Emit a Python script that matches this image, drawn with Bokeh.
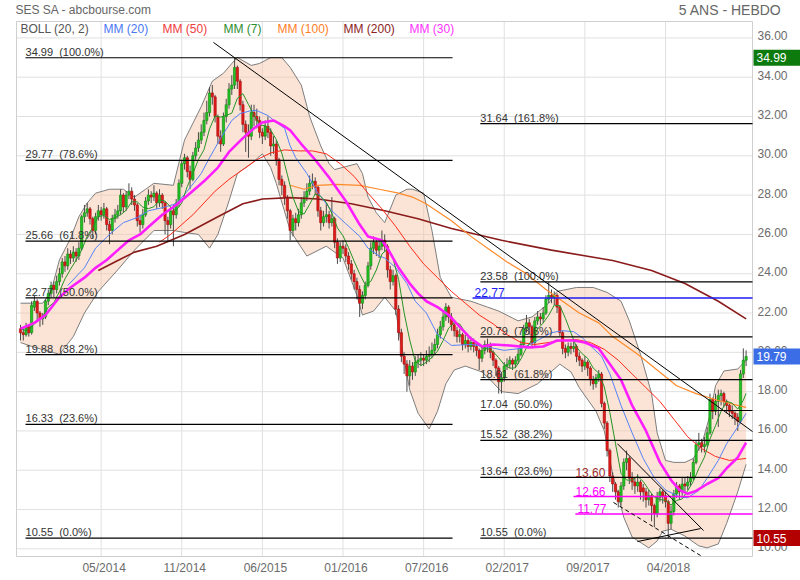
from bokeh.plotting import figure
from bokeh.models import Label, ColumnDataSource, Range1d
from bokeh.core.properties import value
from bokeh.embed import file_html
from bokeh.resources import INLINE

FONT = "Liberation Sans"

# ---------------- weekly candles (bar index 0..261) ----------------
opens = [21.2, 21.0, 20.9, 21.3, 21.0, 22.3, 22.6, 22.0, 21.7, 21.8,
         22.6, 23.0, 23.4, 23.2, 23.6, 24.0, 24.6, 24.4, 25.0, 24.8,
         25.1, 24.9, 25.3, 26.9, 27.1, 27.3, 26.8, 26.2, 26.9, 27.2,
         27.0, 27.3, 26.5, 26.2, 26.8, 27.0, 27.2, 28.0, 27.4, 28.0,
         28.2, 27.8, 27.5, 26.7, 26.5, 27.0, 27.7, 28.0, 27.9, 28.1,
         27.6, 28.0, 27.6, 26.7, 26.5, 27.2, 27.0, 27.6, 28.6, 29.6,
         29.9, 29.2, 28.8, 30.0, 30.4, 30.8, 31.2, 31.8, 32.2, 33.2,
         33.0, 32.0, 31.0, 30.6, 32.0, 32.6, 33.4, 33.6, 34.5, 33.8,
         32.6, 31.6, 31.2, 31.0, 32.2, 32.0, 31.8, 31.2, 31.0, 31.5,
         31.2, 30.5, 30.6, 29.8, 28.8, 28.5, 27.9, 27.2, 26.2, 26.8,
         26.6, 27.0, 27.6, 27.9, 28.2, 28.6, 28.7, 28.4, 27.2, 26.6,
         26.9, 27.0, 26.6, 26.8, 25.6, 24.8, 25.4, 25.3, 24.9, 24.5,
         24.0, 23.6, 23.2, 22.5, 22.9, 23.4, 24.4, 25.3, 25.6, 25.2,
         25.4, 25.7, 25.4, 24.2, 23.6, 23.9, 22.2, 21.0, 19.8, 19.4,
         18.8, 19.3, 19.0, 19.5, 19.6, 19.7, 19.6, 19.8, 19.9, 20.1,
         20.4, 20.9, 21.3, 21.8, 22.3, 21.8, 21.4, 21.1, 20.8, 20.9,
         20.4, 20.6, 20.3, 20.5, 20.3, 20.1, 19.7, 20.1, 20.4, 20.3,
         20.0, 19.6, 19.2, 18.5, 18.7, 19.3, 19.4, 19.6, 19.4, 19.6,
         19.9, 20.4, 21.2, 21.5, 21.3, 20.5, 21.6, 21.8, 21.7, 22.0,
         22.7, 22.9, 22.8, 22.9, 22.3, 21.0, 20.2, 20.0, 20.3, 20.2,
         20.3, 19.8, 19.6, 19.3, 19.5, 19.2, 18.6, 18.4, 18.7, 18.9,
         17.4, 16.4, 15.0, 13.7, 13.3, 12.9, 12.4, 13.2, 14.4, 14.6,
         13.6, 13.4, 13.2, 13.4, 13.1, 12.9, 12.5, 12.7, 12.2, 11.8,
         12.6, 12.9, 12.7, 12.4, 11.3, 11.9, 12.8, 13.2, 12.9, 13.3,
         13.2, 13.4, 13.6, 14.4, 15.3, 15.4, 15.2, 15.3, 15.9, 17.6,
         17.0, 17.5, 17.8, 17.9, 17.5, 17.3, 17.0, 16.9, 16.7, 16.5,
         18.9, 19.6]
highs = [21.4, 21.2, 21.5, 21.4, 22.6, 22.9, 22.7, 22.1, 22.0, 22.7,
         23.2, 23.6, 23.6, 23.9, 24.3, 24.8, 24.9, 25.3, 25.2, 25.4,
         25.3, 25.6, 27.0, 27.5, 27.6, 27.4, 26.9, 27.1, 27.5, 27.4,
         27.6, 27.4, 26.7, 27.0, 27.3, 27.5, 28.3, 28.1, 28.2, 28.6,
         28.4, 28.0, 27.6, 27.0, 27.3, 27.9, 28.3, 28.2, 28.5, 28.2,
         28.3, 28.1, 27.7, 26.9, 27.4, 27.5, 27.8, 28.8, 29.8, 30.1,
         30.0, 29.5, 30.2, 30.7, 31.2, 31.6, 32.2, 32.8, 33.5, 33.6,
         33.1, 32.1, 31.3, 32.2, 32.9, 33.7, 34.1, 34.99, 34.6, 33.9,
         32.8, 31.8, 31.6, 32.6, 32.6, 32.4, 32.0, 31.4, 31.8, 32.0,
         31.4, 31.0, 30.8, 29.9, 29.0, 28.7, 28.0, 27.3, 27.0, 27.1,
         27.3, 27.9, 28.2, 28.6, 29.0, 29.1, 28.9, 28.5, 27.4, 27.2,
         27.6, 27.2, 27.9, 26.9, 25.8, 25.6, 25.7, 25.5, 25.1, 24.7,
         24.2, 23.8, 23.4, 23.1, 23.6, 24.6, 25.6, 25.9, 25.8, 25.7,
         26.2, 26.0, 25.5, 24.4, 24.2, 24.0, 22.4, 21.2, 20.0, 19.6,
         19.6, 19.5, 19.8, 19.9, 20.0, 19.9, 20.1, 20.3, 20.5, 20.7,
         21.2, 21.6, 22.1, 22.5, 22.4, 22.0, 21.6, 21.3, 21.2, 21.0,
         20.9, 20.8, 20.8, 20.7, 20.5, 20.2, 20.3, 20.6, 20.7, 20.5,
         20.1, 19.7, 19.3, 19.0, 19.5, 19.7, 19.8, 19.7, 19.8, 20.2,
         20.6, 21.4, 21.9, 21.7, 21.4, 21.8, 22.1, 22.0, 22.3, 22.9,
         23.58, 23.2, 23.1, 23.0, 22.4, 21.1, 20.4, 20.5, 20.5, 20.6,
         20.4, 20.0, 19.7, 19.8, 19.6, 19.3, 18.8, 18.9, 19.1, 19.0,
         17.5, 16.5, 15.1, 13.9, 13.4, 13.0, 13.4, 14.6, 15.0, 14.7,
         13.9, 13.6, 13.8, 13.5, 13.3, 13.1, 13.0, 12.8, 12.3, 12.9,
         13.1, 13.0, 12.9, 12.5, 12.2, 13.0, 13.4, 13.3, 13.6, 13.6,
         13.7, 13.9, 14.6, 15.5, 15.9, 15.6, 15.7, 16.2, 17.9, 17.7,
         17.9, 18.1, 18.1, 18.0, 17.6, 17.4, 17.3, 17.0, 16.9, 19.1,
         20.2, 20.1]
lows = [20.6, 20.6, 20.8, 20.8, 20.9, 22.1, 21.6, 21.3, 21.4, 21.7,
        22.4, 22.8, 22.8, 23.0, 23.4, 23.8, 24.1, 24.2, 24.5, 24.6,
        24.6, 24.7, 25.2, 26.6, 26.9, 26.5, 25.8, 26.0, 26.7, 26.7,
        26.8, 26.2, 25.5, 26.0, 26.6, 26.8, 27.0, 27.1, 27.2, 27.8,
        27.5, 27.2, 26.4, 26.1, 26.3, 26.9, 27.5, 27.6, 27.7, 27.3,
        27.4, 27.3, 26.0, 25.6, 26.3, 25.4, 26.8, 27.4, 28.4, 29.3,
        28.9, 28.3, 28.7, 29.8, 30.2, 30.6, 31.0, 31.6, 32.0, 32.6,
        31.7, 30.6, 30.2, 30.5, 31.7, 32.4, 33.1, 33.4, 33.4, 32.3,
        31.2, 30.2, 29.9, 30.8, 31.5, 31.4, 30.9, 30.6, 30.8, 30.9,
        30.0, 30.1, 29.5, 28.5, 28.0, 27.5, 26.8, 25.7, 25.9, 26.2,
        26.4, 26.8, 27.4, 27.7, 28.0, 28.3, 28.0, 26.9, 26.2, 26.4,
        26.6, 26.3, 26.4, 25.3, 24.5, 24.6, 25.0, 24.6, 24.2, 23.7,
        23.2, 22.7, 21.8, 22.2, 22.7, 23.3, 24.2, 25.0, 24.9, 24.8,
        25.2, 25.1, 23.8, 23.2, 23.4, 21.9, 20.6, 19.5, 18.9, 18.0,
        18.3, 18.6, 18.8, 19.2, 19.3, 19.3, 19.4, 19.5, 19.7, 19.9,
        20.2, 20.7, 21.1, 21.6, 21.5, 21.1, 20.8, 20.5, 20.5, 20.1,
        20.2, 20.0, 20.1, 20.0, 19.8, 19.1, 19.5, 19.9, 20.0, 19.7,
        19.3, 18.8, 17.9, 17.9, 18.5, 19.1, 19.2, 19.1, 19.2, 19.4,
        19.8, 20.3, 21.0, 20.9, 20.2, 20.3, 21.4, 21.4, 21.5, 21.9,
        22.5, 22.5, 22.4, 22.0, 20.8, 19.9, 19.7, 19.8, 19.9, 20.0,
        19.5, 19.3, 19.0, 19.1, 18.8, 18.3, 18.1, 18.2, 18.5, 17.2,
        16.1, 14.7, 13.4, 12.9, 12.5, 12.1, 12.2, 13.0, 14.0, 13.3,
        13.0, 12.8, 12.9, 12.5, 12.4, 12.1, 12.2, 11.4, 11.1, 11.6,
        12.4, 12.3, 12.1, 10.55, 11.0, 11.7, 12.6, 12.5, 12.7, 12.9,
        13.0, 13.2, 13.5, 14.3, 15.0, 14.9, 14.9, 15.2, 15.8, 16.6,
        16.8, 16.2, 17.3, 17.2, 16.9, 16.7, 16.6, 16.3, 16.0, 16.4,
        18.7, 19.3]
closes = [21.0, 20.9, 21.3, 21.0, 22.4, 22.6, 22.0, 21.7, 21.8, 22.6,
          23.0, 23.4, 23.2, 23.6, 24.0, 24.6, 24.4, 25.0, 24.8, 25.1,
          24.9, 25.3, 26.9, 27.1, 27.3, 26.8, 26.2, 26.9, 27.2, 27.0,
          27.3, 26.5, 26.2, 26.8, 27.0, 27.2, 28.0, 27.4, 28.0, 28.2,
          27.8, 27.5, 26.7, 26.5, 27.0, 27.7, 28.0, 27.9, 28.1, 27.6,
          28.0, 27.6, 26.7, 26.5, 27.2, 27.0, 27.6, 28.6, 29.6, 29.9,
          29.2, 28.8, 30.0, 30.4, 30.8, 31.2, 31.8, 32.2, 33.2, 33.0,
          32.0, 31.0, 30.6, 32.0, 32.6, 33.4, 33.6, 34.5, 33.8, 32.6,
          31.6, 31.2, 31.0, 32.2, 32.0, 31.8, 31.2, 31.0, 31.5, 31.2,
          30.5, 30.6, 29.8, 28.8, 28.5, 27.9, 27.2, 26.2, 26.8, 26.6,
          27.0, 27.6, 27.9, 28.2, 28.6, 28.7, 28.4, 27.2, 26.6, 26.9,
          27.0, 26.6, 26.8, 25.6, 24.8, 25.4, 25.3, 24.9, 24.5, 24.0,
          23.6, 23.2, 22.5, 22.9, 23.4, 24.4, 25.3, 25.6, 25.2, 25.4,
          25.7, 25.4, 24.2, 23.6, 23.9, 22.2, 21.0, 19.8, 19.4, 18.8,
          19.3, 19.0, 19.5, 19.6, 19.7, 19.6, 19.8, 19.9, 20.1, 20.4,
          20.9, 21.3, 21.8, 22.3, 21.8, 21.4, 21.1, 20.8, 20.9, 20.4,
          20.6, 20.3, 20.5, 20.3, 20.1, 19.7, 20.1, 20.4, 20.3, 20.0,
          19.6, 19.2, 18.5, 18.7, 19.3, 19.4, 19.6, 19.4, 19.6, 19.9,
          20.4, 21.2, 21.5, 21.3, 20.5, 21.6, 21.8, 21.7, 22.0, 22.7,
          22.9, 22.8, 22.9, 22.3, 21.0, 20.2, 20.0, 20.3, 20.2, 20.3,
          19.8, 19.6, 19.3, 19.5, 19.2, 18.6, 18.4, 18.7, 18.9, 17.4,
          16.4, 15.0, 13.7, 13.3, 12.9, 12.4, 13.2, 14.4, 14.6, 13.6,
          13.4, 13.2, 13.4, 12.9, 12.9, 12.5, 12.7, 12.2, 11.8, 12.6,
          12.9, 12.7, 12.4, 11.3, 11.9, 12.8, 13.2, 12.9, 13.3, 13.2,
          13.4, 13.6, 14.4, 15.3, 15.4, 15.2, 15.3, 15.9, 17.6, 17.0,
          17.5, 17.8, 17.9, 17.5, 17.3, 17.0, 16.9, 16.7, 16.5, 18.9,
          19.6, 19.79]

# ---------------- axis ticks ----------------
date_ticks = [29, 58, 87, 116, 145, 174, 203, 232]
date_labels = ["05/2014", "11/2014", "06/2015", "01/2016", "07/2016", "02/2017", "09/2017", "04/2018"]
price_ticks = [10, 12, 14, 16, 18, 20, 22, 24, 26, 28, 30, 32, 34, 36]

# ---------------- indicators ----------------
mm7_idx = list(range(0, 261, 2)) + [261]
mm7_val = [21.2, 21.1, 21.3, 21.6, 21.83, 22.3, 22.53, 23.09, 23.74, 24.23,
           24.69, 25.2, 25.91, 26.36, 26.91, 26.96, 26.76, 26.86, 27.0, 27.23,
           27.66, 27.66, 27.39, 27.31, 27.41, 27.76, 27.7, 27.39, 27.23, 27.6,
           28.44, 29.1, 29.81, 30.31, 31.37, 32.03, 31.97, 32.06, 32.17, 32.93,
           33.16, 32.61, 32.06, 31.57, 31.53, 31.31, 30.83, 30.13, 29.04, 27.89,
           27.17, 27.04, 27.53, 28.06, 27.94, 27.63, 27.07, 26.33, 25.93, 25.33,
           24.64, 24.0, 23.44, 23.61, 24.19, 25.0, 25.26, 24.77, 23.71, 22.01,
           20.63, 19.54, 19.33, 19.5, 19.74, 20.06, 20.6, 21.23, 21.51, 21.44,
           21.0, 20.66, 20.44, 20.23, 20.2, 20.03, 19.73, 19.37, 19.19, 19.21,
           19.66, 20.23, 20.63, 21.19, 21.49, 21.89, 22.4, 22.37, 21.73, 20.99,
           20.26, 19.93, 19.7, 19.2, 18.94, 18.23, 16.93, 15.37, 13.84, 13.5,
           13.5, 13.69, 13.43, 13.0, 12.63, 12.51, 12.47, 12.23, 12.46, 12.54,
           12.96, 13.43, 14.09, 14.66, 15.59, 16.27, 17.0, 17.51, 17.41, 17.11,
           17.56, 17.91]

mm20_idx = [17, 23, 27, 32, 37, 42, 46, 51, 56, 60, 65, 68, 72, 76, 79, 83, 85, 89, 92, 95,
            97, 99, 103, 107, 112, 117, 122, 125, 129, 131, 135, 139, 142, 146, 150, 155, 162, 167,
            174, 180, 184, 191, 195, 199, 202, 206, 209, 212, 216, 220, 224, 228, 232, 237, 240,
            244, 247, 251, 254, 258, 261]
mm20_val = [23.4, 24.3, 25.3, 26.0, 26.6, 26.86, 27.2, 27.36, 27.56, 28.2, 29.1, 29.9, 30.9, 31.8,
            32.15, 32.3, 32.3, 32.05, 31.7, 31.4, 30.5, 29.9, 29.1, 28.1, 27.2, 26.55, 25.9, 25.3,
            24.9, 24.8, 24.3, 23.5, 22.6, 22.0, 20.9, 20.35, 20.4, 20.3, 20.1, 20.2, 20.45, 21.0,
            21.1, 21.05, 20.75, 20.2, 19.8, 18.9, 17.3, 15.9, 14.6, 13.6, 13.0, 12.65, 12.6, 12.97,
            13.6, 14.5, 15.35, 16.2, 16.9]

mm30_idx = [0, 5, 9, 14, 18, 23, 27, 31, 35, 39, 43, 47, 51, 56, 61, 66, 71, 75, 80, 84, 87, 91,
            95, 97, 101, 106, 111, 117, 122, 125, 130, 132, 136, 140, 143, 146, 150, 154, 158, 162,
            166, 170, 176, 183, 188, 193, 199, 203, 208, 211, 216, 220, 225, 230, 234, 237, 240,
            243, 247, 251, 254, 258, 261]
mm30_val = [21.2, 21.5, 21.9, 22.8, 23.3, 23.8, 24.3, 24.7, 25.2, 25.7, 26.0, 26.5, 27.0, 27.5,
            28.1, 28.7, 29.4, 30.2, 30.9, 31.4, 31.7, 31.8, 31.5, 31.3, 30.6, 29.8, 28.9, 27.7, 26.5,
            25.9, 25.7, 25.3, 24.3, 23.5, 23.0, 22.6, 22.3, 21.9, 21.3, 20.7, 20.3, 20.4, 20.35,
            20.25, 20.3, 20.6, 20.6, 20.5, 20.2, 19.6, 18.6, 17.3, 16.0, 14.4, 13.5, 13.0, 12.8,
            12.95, 13.3, 13.6, 14.1, 14.65, 15.4]

mm50_idx = [50, 54, 58, 62, 66, 70, 75, 80, 85, 90, 95, 100, 105, 110, 115, 120, 125, 130, 135,
            140, 145, 150, 155, 160, 165, 170, 175, 180, 185, 190, 195, 200, 205, 210, 215, 220,
            225, 230, 235, 240, 245, 250, 255, 261]
mm50_val = [25.6, 26.0, 26.5, 27.0, 27.6, 28.2, 28.8, 29.3, 29.8, 30.15, 30.3, 30.25, 30.25, 30.1,
            29.6, 28.95, 28.1, 27.3, 26.4, 25.4, 24.5, 23.8, 23.1, 22.5, 21.9, 21.45, 20.9, 20.5,
            20.4, 20.5, 20.6, 20.65, 20.5, 20.15, 19.6, 18.9, 18.2, 17.5, 16.6, 15.7, 15.1, 14.7,
            14.5, 14.6]

mm100_idx = [97, 102, 107, 114, 122, 129, 136, 141, 146, 155, 162, 169, 175, 182, 189, 195, 201,
             208, 213, 222, 229, 236, 243, 251, 258, 261]
mm100_val = [28.5, 28.3, 28.5, 28.55, 28.5, 28.3, 28.1, 27.9, 27.55, 26.7, 25.9, 25.2, 24.6, 24.0,
             23.2, 22.6, 22.0, 21.5, 20.8, 19.9, 19.1, 18.3, 17.9, 17.55, 17.3, 17.2]

mm200_idx = [28, 35, 41, 49, 59, 71, 80, 87, 97, 107, 119, 131, 143, 155, 173, 191, 213, 227, 239,
             251, 261]
mm200_val = [24.16, 24.67, 25.1, 25.4, 26.0, 26.9, 27.56, 27.8, 27.87, 27.8, 27.56, 27.2, 26.8, 26.3,
             25.7, 25.2, 24.67, 24.16, 23.5, 22.6, 21.7]

boll_up_idx = [0, 8, 11, 14, 18, 21, 24, 27, 32, 37, 41, 45, 48, 55, 59, 65, 69, 73, 76, 78, 83,
               86, 90, 94, 97, 101, 104, 108, 111, 113, 117, 121, 123, 125, 128, 131, 135, 139, 141,
               145, 148, 151, 155, 162, 168, 172, 179, 184, 190, 193, 200, 206, 211, 216, 219, 223,
               227, 229, 232, 235, 239, 242, 245, 248, 250, 253, 258, 261]
boll_up_val = [22.5, 22.5, 23.1, 24.7, 25.8, 26.9, 27.6, 28.1, 28.3, 28.3, 27.9, 28.3, 28.6, 28.5,
               30.8, 32.5, 33.8, 34.2, 34.7, 35.0, 34.6, 34.7, 35.0, 35.0, 34.5, 33.6, 32.0, 30.5,
               29.6, 29.3, 29.45, 29.6, 29.1, 27.9, 27.1, 26.6, 28.0, 28.3, 28.3, 28.1, 26.2, 23.8,
               22.8, 22.6, 22.3, 22.1, 21.6, 21.8, 22.5, 23.1, 23.3, 23.3, 23.05, 22.6, 21.6, 19.9,
               17.9, 15.9, 14.5, 14.4, 14.4, 14.6, 15.3, 16.8, 18.3, 19.05, 19.15, 19.6]
boll_lo_idx = [0, 4, 9, 14, 19, 23, 28, 35, 41, 48, 55, 59, 64, 68, 71, 75, 78, 83, 87, 90, 92, 97,
               103, 110, 116, 121, 123, 127, 131, 135, 137, 140, 143, 147, 150, 153, 156, 160, 166,
               169, 173, 179, 186, 190, 194, 198, 201, 207, 210, 213, 217, 220, 226, 229, 231, 234,
               239, 244, 247, 251, 254, 258, 261]
boll_lo_val = [20.5, 20.3, 20.1, 19.9, 20.8, 22.0, 23.1, 24.2, 25.2, 26.2, 26.2, 26.1, 26.0, 25.3,
               26.0, 27.7, 29.1, 29.6, 30.1, 29.4, 28.6, 26.2, 24.9, 25.4, 24.8, 22.9, 21.9, 22.1,
               22.8, 22.1, 20.4, 18.1, 16.9, 16.1, 17.0, 18.4, 19.1, 19.3, 19.0, 18.6, 18.0, 17.9,
               18.4, 18.9, 19.4, 19.0, 18.2, 17.0, 16.0, 13.8, 11.6, 10.6, 10.05, 10.4, 10.9, 11.0,
               10.65, 10.15, 10.05, 10.25, 11.3, 12.9, 14.3]

# ---------------- Fibonacci retracements & drawings ----------------
fib_left_levels = [34.99, 29.77, 25.66, 22.77, 19.88, 16.33, 10.55]
fib_left_pcts = ["100.0%", "78.6%", "61.8%", "50.0%", "38.2%", "23.6%", "0.0%"]
fib_left_span = [1.8, 155.4]
fib_right_levels = [31.64, 23.58, 20.79, 18.61, 17.04, 15.52, 13.64, 10.55]
fib_right_pcts = ["161.8%", "100.0%", "78.6%", "61.8%", "50.0%", "38.2%", "23.6%", "0.0%"]
fib_right_span = [165.4, 263.3]

level_values = [22.77, 12.66, 11.77]
level_starts = [162.6, 198.9, 199.6]
level_colors = ["#1c1cf5", "#ff00ff", "#ff00ff"]
support_label = 13.60
support_start = 199.6

trend_x0 = [69.4, 214.7, 221.9]
trend_y0 = [35.77, 15.35, 10.37]
trend_x1 = [263.3, 245.7, 244.6]
trend_y1 = [15.97, 10.93, 11.03]
dash_x0, dash_y0, dash_x1, dash_y1 = [213.3], [12.36], [244.6], [9.66]

tag_values = [34.99, 19.79, 10.55]
tag_colors = ["#0c7a0c", "#3b6ee6", "#b30000"]

legend_texts = ["BOLL (20, 2)", "MM (20)", "MM (50)", "MM (7)", "MM (100)", "MM (200)", "MM (30)"]
legend_colors = ["#555555", "#4a78f0", "#f03c3c", "#2e8b2e", "#ff7f27", "#8b2222", "#ff33ff"]

# ---------------- plot area (data limits) and page layout ----------------
X_LO, X_HI = -1.44, 263.3        # bar-index extent of the price panel
Y_LO, Y_HI = 9.61, 36.835        # price extent of the price panel
W, H = 800, 580
PAD_L, PAD_R, PAD_T, PAD_B = 16, 48, 21, 24
sx = (W - PAD_L - PAD_R) / (X_HI - X_LO)
sy = (H - PAD_T - PAD_B) / (Y_HI - Y_LO)
x_range = Range1d(X_LO - PAD_L / sx, X_HI + PAD_R / sx)
y_range = Range1d(Y_LO - PAD_B / sy, Y_HI + PAD_T / sy)

p = figure(width=W, height=H, x_range=x_range, y_range=y_range,
           x_axis_location=None, y_axis_location=None,
           output_backend="svg", toolbar_location=None, min_border=0)
p.background_fill_color = "white"
p.border_fill_color = "white"
p.outline_line_color = None
p.grid.visible = False

# grid + frame of the price panel
nt, npt = len(date_ticks), len(price_ticks)
p.segment(x0=date_ticks, y0=[Y_LO] * nt, x1=date_ticks, y1=[Y_HI] * nt,
          line_color="#e0e0e0", line_width=1)
p.segment(x0=[X_LO] * npt, y0=price_ticks, x1=[X_HI] * npt, y1=price_ticks,
          line_color="#e0e0e0", line_width=1)
p.quad(left=[X_LO], right=[X_HI], bottom=[Y_LO], top=[Y_HI], fill_color=None,
       line_color="#cfcfcf", line_width=1)

# axis tick labels
p.text(x=date_ticks, y=[Y_LO] * nt, text=date_labels, text_font=value(FONT),
       text_font_size="12px", text_color="#6b6b6b", text_align="center",
       text_baseline="top", x_offset=3, y_offset=4)
p.text(x=[X_HI] * npt, y=price_ticks, text=[f"{t:.2f}" for t in price_ticks],
       text_font=value(FONT), text_font_size="12px", text_color="#6b6b6b",
       text_align="left", text_baseline="middle", x_offset=5, y_offset=-2)

# Bollinger band
band_x = boll_up_idx + boll_lo_idx[::-1]
band_y = boll_up_val + boll_lo_val[::-1]
p.patch(band_x, band_y, fill_color="#f7c4a2", fill_alpha=0.45, line_color=None)
p.line(boll_up_idx, boll_up_val, line_color="#7d7d7d", line_width=1)
p.line(boll_lo_idx, boll_lo_val, line_color="#7d7d7d", line_width=1)

# candles
N = len(closes)
src = ColumnDataSource(dict(
    x=list(range(N)), h=highs, l=lows,
    top=[max(o, c) for o, c in zip(opens, closes)],
    bot=[min(o, c) for o, c in zip(opens, closes)],
    fill=["#22c322" if c >= o else "#e21a1a" for o, c in zip(opens, closes)],
    edge=["#178f17" if c >= o else "#ae1212" for o, c in zip(opens, closes)],
))
p.segment(x0="x", y0="h", x1="x", y1="l", source=src, line_color="#4a4a4a", line_width=1)
p.vbar(x="x", width=0.8, top="top", bottom="bot", source=src,
       fill_color="fill", line_color="edge", line_width=0.7)

# moving averages
p.line(mm200_idx, mm200_val, line_color="#8b1c1c", line_width=1.6)
p.line(mm100_idx, mm100_val, line_color="#ff8a2a", line_width=1.2)
p.line(mm50_idx, mm50_val, line_color="#ff2a1a", line_width=1)
p.line(mm20_idx, mm20_val, line_color="#5582f7", line_width=1)
p.line(mm7_idx, mm7_val, line_color="#259325", line_width=1)
p.line(mm30_idx, mm30_val, line_color="#ff1eff", line_width=2.6)

# Fibonacci lines and labels
nl = len(fib_left_levels)
p.segment(x0=[fib_left_span[0]] * nl, y0=fib_left_levels, x1=[fib_left_span[1]] * nl,
          y1=fib_left_levels, line_color="black", line_width=1.2)
p.text(x=[fib_left_span[0]] * nl, y=fib_left_levels,
       text=[f"{v:.2f}\u00a0 ({q})" for v, q in zip(fib_left_levels, fib_left_pcts)],
       text_font=value(FONT), text_font_size="11px", text_color="#333333",
       text_baseline="bottom")
nr = len(fib_right_levels)
p.segment(x0=[fib_right_span[0]] * nr, y0=fib_right_levels, x1=[fib_right_span[1]] * nr,
          y1=fib_right_levels, line_color="black", line_width=1.2)
p.text(x=[fib_right_span[0]] * nr, y=fib_right_levels,
       text=[f"{v:.2f}\u00a0 ({q})" for v, q in zip(fib_right_levels, fib_right_pcts)],
       text_font=value(FONT), text_font_size="11px", text_color="#333333",
       text_baseline="bottom")

# other horizontal levels
p.segment(x0=level_starts, y0=level_values, x1=[X_HI] * len(level_values),
          y1=level_values, line_color=level_colors, line_width=1.5)
p.text(x=level_starts, y=level_values, text=[f"{v:.2f}" for v in level_values],
       text_font=value(FONT), text_font_size="12px", text_color=level_colors,
       text_baseline="bottom", x_offset=2, y_offset=-1)
p.text(x=[support_start], y=[support_label], text=[f"{support_label:.2f}"],
       text_font=value(FONT), text_font_size="12px", text_color="#9b2c2c",
       text_baseline="bottom", y_offset=-1)

# trend lines
p.segment(x0=trend_x0, y0=trend_y0, x1=trend_x1, y1=trend_y1, line_color="black", line_width=1)
p.segment(x0=dash_x0, y0=dash_y0, x1=dash_x1, y1=dash_y1, line_color="black",
          line_width=1, line_dash="4 3")

# legend row and titles (screen units from the canvas bottom-left)
legend_x = [20, 103, 162, 223, 277, 343, 409]
for t, c, lx in zip(legend_texts, legend_colors, legend_x):
    p.add_layout(Label(x=lx, y=H - 28, x_units="screen", y_units="screen", text=t,
                       text_font=FONT, text_font_size="12px", text_color=c,
                       text_baseline="middle"))
p.add_layout(Label(x=15, y=H - 9, x_units="screen", y_units="screen",
                   text="SES SA - abcbourse.com", text_font=FONT, text_font_size="12px",
                   text_color="#666666", text_baseline="middle"))
p.add_layout(Label(x=781, y=H - 9, x_units="screen", y_units="screen", text="5 ANS - HEBDO",
                   text_font=FONT, text_font_size="14px", text_color="#666666",
                   text_baseline="middle", text_align="right"))

# price tags on the right axis (box from the panel edge to the page edge)
nt_tag = len(tag_values)
half_h = 8 / sy
p.quad(left=[X_HI + 1 / sx] * nt_tag, right=[x_range.end] * nt_tag,
       bottom=[v - half_h for v in tag_values], top=[v + half_h for v in tag_values],
       fill_color=tag_colors, line_color=None)
p.text(x=[X_HI] * nt_tag, y=tag_values, text=[f"{v:.2f}" for v in tag_values],
       text_font=value(FONT), text_font_size="12px", text_color="white",
       text_align="left", text_baseline="middle", x_offset=4)

open("out.html", "w").write(file_html(p, INLINE))
